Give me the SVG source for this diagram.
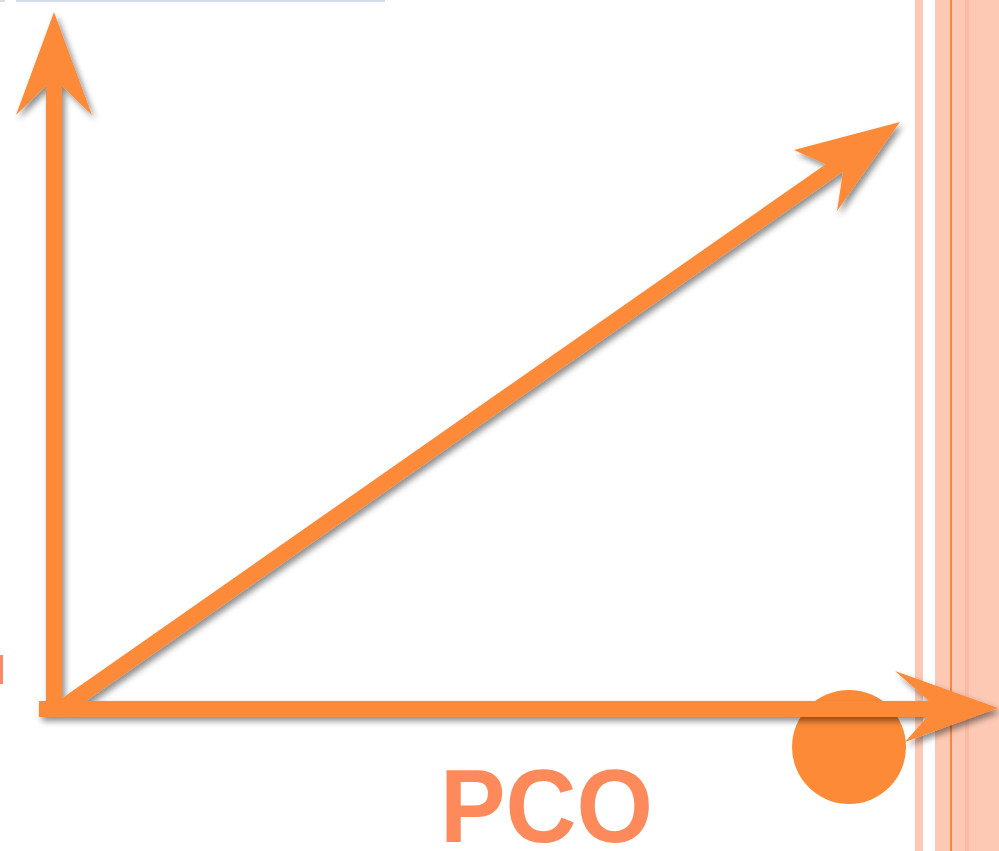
<svg xmlns="http://www.w3.org/2000/svg" width="999" height="851" viewBox="0 0 999 851">
  <defs>
    <style>
      .arrow { fill: #FD8A37; }
      .stripe { fill: #FDC8B4; }
      .label { font-family: "Liberation Sans", Arial, sans-serif; font-weight: bold; fill: #FE8A5C; }
    </style>
    <filter id="shadow" x="-20%" y="-20%" width="140%" height="140%">
      <feDropShadow dx="3" dy="4" stdDeviation="3" flood-color="#000" flood-opacity="0.45"/>
    </filter>
  </defs>
  <rect x="0" y="0" width="999" height="851" fill="#fff"/>
  <g id="background">
    <rect x="16" y="0" width="369" height="2" fill="#D6DCE8"/>
    <rect x="0" y="0" width="5" height="2" fill="#D6DCE8"/>
    <rect x="0" y="655" width="3" height="29" fill="#FF8866"/>
    <rect class="stripe" x="915" y="0" width="8" height="851"/>
    <rect class="stripe" x="935" y="0" width="64" height="851"/>
    <rect x="965" y="0" width="4" height="851" fill="#FCBBA2"/>
    <rect x="950" y="0" width="2" height="851" fill="#FF8833"/>
  </g>
  <g id="dot">
    <circle cx="849" cy="747" r="57" fill="#FD8A37"/>
  </g>
  <g id="connectors" filter="url(#shadow)">
    <g id="y-axis">
      <rect class="arrow" x="46" y="80" width="16" height="637"/>
      <polygon class="arrow" points="54,12 92,115 62,86 54,80 46,86 16,115"/>
    </g>
    <g id="x-axis">
      <rect class="arrow" x="39" y="701" width="895" height="16"/>
      <polygon class="arrow" points="998,708 905,742 928,716 932,708 928,700 895,671"/>
    </g>
    <g id="diagonal">
      <line x1="62" y1="708" x2="850" y2="157" stroke="#FD8A37" stroke-width="16"/>
      <polygon class="arrow" points="900,122 837,211 843,172 794,150"/>
    </g>
  </g>
  <g id="label">
    <text class="label" x="440" y="842" font-size="103" textLength="213" lengthAdjust="spacingAndGlyphs">PCO</text>
  </g>
</svg>
